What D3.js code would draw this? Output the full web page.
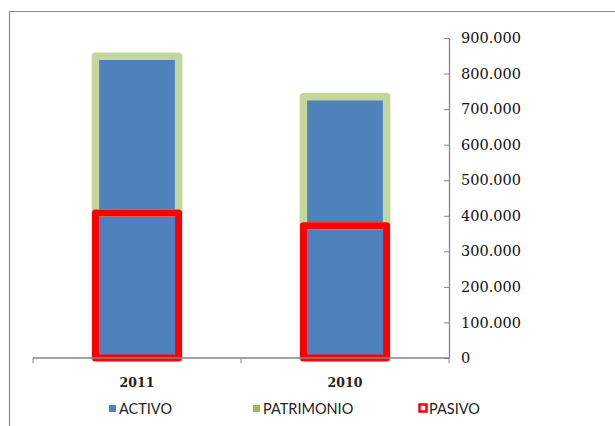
<!DOCTYPE html>
<html><head><meta charset="utf-8">
<script src="https://cdn.jsdelivr.net/npm/d3@7"></script>
<style>body{margin:0;background:#fff}svg{display:block}</style>
</head><body>
<script>
const categories = ["2011", "2010"];
const activo = [849000, 735000];
const pasivo = [408000, 372000];
const patrimonio = [441000, 363000];
const tickValues = [0,100000,200000,300000,400000,500000,600000,700000,800000,900000];
const seriesNames = ["ACTIVO", "PATRIMONIO", "PASIVO"];

const W = 615, H = 426;
const svg = d3.select("body").append("svg").attr("width", W).attr("height", H);
svg.append("rect").attr("width", W).attr("height", H).attr("fill", "#fff");
svg.append("path").attr("d", `M9.5,${H} V11.5 H${W}`).attr("fill","none").attr("stroke","#8c8c8c").attr("stroke-width",1.2);

const x = d3.scaleBand().domain(categories).range([33, 449]).paddingInner(0.6).paddingOuter(0.3);
const y = d3.scaleLinear().domain([0, 900000]).range([358, 38]);

const data = categories.map((c,i)=>({c, a:activo[i], p:pasivo[i], q:patrimonio[i]}));

svg.selectAll(".act").data(data).enter().append("rect")
  .attr("x", d=>x(d.c)).attr("width", x.bandwidth())
  .attr("y", d=>y(d.a)).attr("height", d=>y(0)-y(d.a))
  .attr("fill", "#4F81BD");
svg.selectAll(".pat").data(data).enter().append("rect")
  .attr("x", d=>x(d.c)).attr("width", x.bandwidth())
  .attr("y", d=>y(d.p + d.q)).attr("height", d=>y(d.p)-y(d.p+d.q))
  .attr("fill", "none").attr("stroke", "#C3D69B").attr("stroke-width", 7.5).attr("stroke-linejoin","round");
svg.selectAll(".pas").data(data).enter().append("rect")
  .attr("x", d=>x(d.c)).attr("width", x.bandwidth())
  .attr("y", d=>y(d.p)).attr("height", d=>y(0)-y(d.p))
  .attr("fill", "none").attr("stroke", "#FF0000").attr("stroke-width", 7).attr("stroke-linejoin","round");

const xg = svg.append("g").attr("transform", `translate(0,${y(0)})`);
xg.append("line").attr("x1",33).attr("x2",449).attr("stroke","#868686").attr("stroke-width",1.3);
[0,1,2].forEach(i=>{
  const xx = 33 + i*((449-33)/categories.length);
  xg.append("line").attr("x1",xx).attr("x2",xx).attr("y1",0).attr("y2",5).attr("stroke","#868686");
});
xg.selectAll("text.cat").data(categories).enter().append("text")
  .attr("x", d=>x(d)+x.bandwidth()/2).attr("y", 29)
  .attr("text-anchor","middle").attr("font-family","'DejaVu Serif', serif").attr("font-weight","bold")
  .attr("font-size",12.5).attr("fill","#222").text(d=>d);

const fmt = d3.formatLocale({decimal:",", thousands:".", grouping:[3], currency:["",""]}).format(",");
const yAxis = d3.axisRight(y).tickValues(tickValues).tickSize(0).tickPadding(12).tickFormat(fmt);
const yg = svg.append("g").attr("transform", `translate(449,0)`).call(yAxis);
yg.select(".domain").attr("stroke","#868686").attr("stroke-width",1.3);
yg.selectAll(".tick").append("line").attr("x1",-5).attr("x2",0).attr("stroke","#868686");
yg.selectAll("text").attr("font-family","'DejaVu Serif', serif").attr("font-weight","normal")
  .attr("font-size",14.5).attr("fill","#111");

const legendColors = ["#4F81BD", "#9BBB59", "#FF0000"];
const legX = [109, 253, 418];
const lg = svg.append("g");
seriesNames.forEach((n,i)=>{
  if (i<2) {
    lg.append("rect").attr("x",legX[i]).attr("y",405).attr("width",7).attr("height",7).attr("fill",legendColors[i]);
  } else {
    lg.append("rect").attr("x",legX[i]+1.5).attr("y",404.5).attr("width",7).attr("height",7).attr("fill","#fff")
      .attr("stroke",legendColors[i]).attr("stroke-width",2.5);
  }
  lg.append("text").attr("x", legX[i] + (i<2?10:11)).attr("y", 414)
    .attr("font-family","Lato, 'Open Sans', sans-serif").attr("font-size",14.5).attr("fill","#222").text(n);
});
</script>
</body></html>
